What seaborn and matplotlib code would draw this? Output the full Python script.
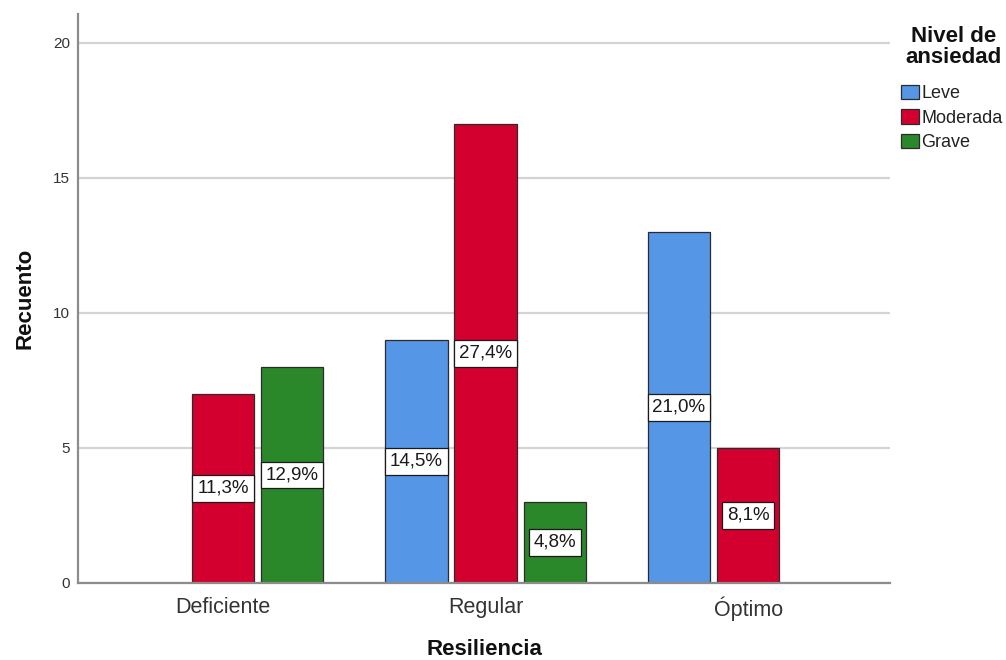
import matplotlib
matplotlib.use("Agg")
import matplotlib.pyplot as plt
import seaborn as sns
import pandas as pd

# Counts by resilience level and anxiety level
resiliencia = ["Deficiente", "Deficiente", "Regular", "Regular", "Regular", "Óptimo", "Óptimo"]
ansiedad = ["Moderada", "Grave", "Leve", "Moderada", "Grave", "Leve", "Moderada"]
recuento = [7, 8, 9, 17, 3, 13, 5]

niveles_resiliencia = ["Deficiente", "Regular", "Óptimo"]
niveles_ansiedad = ["Leve", "Moderada", "Grave"]
colores = ["#5596E6", "#D3002F", "#2A872A"]

df = pd.DataFrame({"Resiliencia": resiliencia, "Ansiedad": ansiedad, "Recuento": recuento})
total = sum(recuento)

sns.set_theme(style="white")
plt.rcParams["font.family"] = ["Liberation Sans", "DejaVu Sans"]

fig = plt.figure(figsize=(10.06, 6.6), dpi=100)
ax = fig.add_axes([0.0775, 0.1167, 0.8075, 0.8621])

ax.yaxis.grid(True, color="#d4d4d4", linewidth=1.6)
ax.set_axisbelow(True)

sns.barplot(data=df, x="Resiliencia", y="Recuento", hue="Ansiedad",
            order=niveles_resiliencia, hue_order=niveles_ansiedad,
            palette=colores, width=0.79, gap=0.1, edgecolor="#2b2b2b",
            linewidth=0.9, saturation=1, ax=ax, legend=True)

# Percentage of the total inside each bar
for cont in ax.containers:
    for bar in cont:
        h = bar.get_height()
        if not h or h != h:
            continue
        pct = f"{h / total * 100:.1f}%".replace(".", ",")
        ax.text(bar.get_x() + bar.get_width() / 2, h / 2, pct,
                ha="center", va="center", fontsize=13.5, color="#1a1a1a",
                bbox=dict(boxstyle="square,pad=0.26", facecolor="white",
                          edgecolor="#1a1a1a", linewidth=0.9))

ax.set_xlim(-0.552, 2.541)
ax.set_ylim(0, 21.07)
ax.set_yticks([0, 5, 10, 15, 20])
ax.tick_params(axis="y", labelsize=11, length=0, pad=5.5, labelcolor="#333333")
ax.tick_params(axis="x", labelsize=15.5, length=0, pad=10, labelcolor="#333333")

for side in ["top", "right"]:
    ax.spines[side].set_visible(False)
for side in ["left", "bottom"]:
    ax.spines[side].set_color("#8c8c8c")
    ax.spines[side].set_linewidth(1.6)

ax.set_xlabel("Resiliencia", fontsize=16, fontweight="bold", labelpad=12.5, color="#111111")
ax.set_ylabel("Recuento", fontsize=16, fontweight="bold", labelpad=13, color="#111111")

# Legend title drawn on its own, entries below it
fig.text(954 / 1006, 1 - 26 / 660, "Nivel de\nansiedad", ha="center", va="top",
         fontsize=16, fontweight="bold", linespacing=1.0, color="#111111")

leg = ax.legend(loc="upper left",
                bbox_to_anchor=(901 / 1006, 1 - 85 / 660), bbox_transform=fig.transFigure,
                frameon=False, fontsize=13,
                handlelength=1.0, handleheight=0.85, handletextpad=0.12,
                labelspacing=0.39, borderaxespad=0, borderpad=0)
for t in leg.get_texts():
    t.set_color("#222222")
for h in leg.legend_handles:
    h.set_edgecolor("#2b2b2b")
    h.set_linewidth(0.9)

fig.savefig("out.png", dpi=100)
